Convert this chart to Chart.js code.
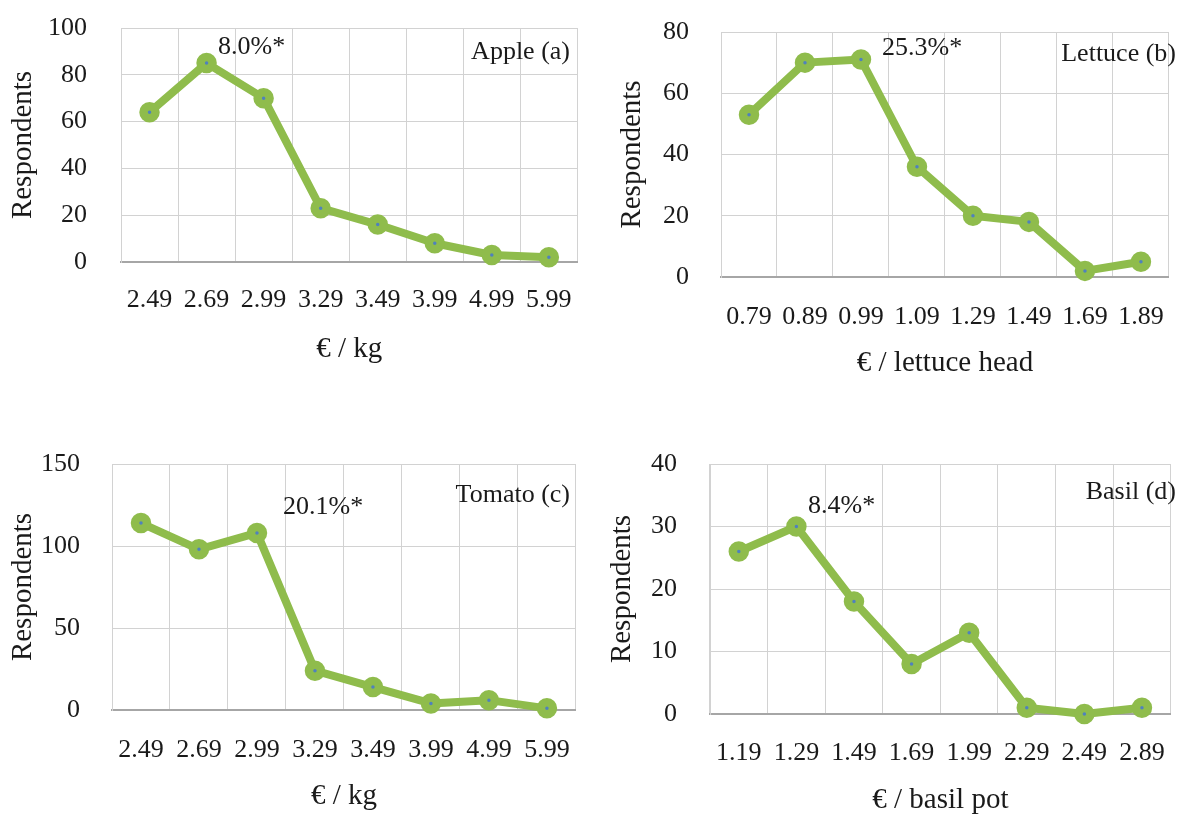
<!DOCTYPE html>
<html>
<head>
<meta charset="utf-8">
<title>Respondents by price point</title>
<script src="https://cdn.jsdelivr.net/npm/chart.js@4.4.0/dist/chart.umd.min.js"></script>
<style>
  html, body { margin: 0; padding: 0; background: #fff; }
  #page { position: relative; width: 1189px; height: 817px; overflow: hidden; background: #fff; }
  canvas { position: absolute; }
</style>
</head>
<body>
<div id="page">
  <canvas id="apple"></canvas>
  <canvas id="lettuce"></canvas>
  <canvas id="tomato"></canvas>
  <canvas id="basil"></canvas>
</div>
<script>
// price points and respondent counts
const applePrices = ['2.49', '2.69', '2.99', '3.29', '3.49', '3.99', '4.99', '5.99'];
const appleCounts = [64, 85, 70, 23, 16, 8, 3, 2];
const appleTicks = { max: 100, step: 20 };

const lettucePrices = ['0.79', '0.89', '0.99', '1.09', '1.29', '1.49', '1.69', '1.89'];
const lettuceCounts = [53, 70, 71, 36, 20, 18, 2, 5];
const lettuceTicks = { max: 80, step: 20 };

const tomatoPrices = ['2.49', '2.69', '2.99', '3.29', '3.49', '3.99', '4.99', '5.99'];
const tomatoCounts = [114, 98, 108, 24, 14, 4, 6, 1];
const tomatoTicks = { max: 150, step: 50 };

const basilPrices = ['1.19', '1.29', '1.49', '1.69', '1.99', '2.29', '2.49', '2.89'];
const basilCounts = [26, 30, 18, 8, 13, 1, 0, 1];
const basilTicks = { max: 40, step: 10 };

const FONT_FAMILY = "'Liberation Serif', 'Times New Roman', serif";
const FONT_SIZE = 26;
const TITLE_SIZE = 29;
const TEXT = '#1a1a1a';
const GREEN = '#8fbc4c';
const GRID = '#d2d2d2';

// panel name (top right) and the share note near the peak
const panelText = {
    id: 'panelText',
    afterDraw(chart, args, opts) {
        const ctx = chart.ctx;
        ctx.save();
        ctx.font = FONT_SIZE + 'px ' + FONT_FAMILY;
        ctx.fillStyle = TEXT;
        ctx.textBaseline = 'middle';
        ctx.textAlign = 'right';
        ctx.fillText(opts.name, opts.nameAt[0], opts.nameAt[1]);
        ctx.textAlign = 'left';
        ctx.fillText(opts.note, opts.noteAt[0], opts.noteAt[1]);
        ctx.restore();
    }
};

function makePanel(p) {
    const [cx, cy, cw, ch] = p.box;
    const [l, t, r, b] = p.plot;
    const canvas = document.getElementById(p.id);
    canvas.width = cw;
    canvas.height = ch;
    canvas.style.left = cx + 'px';
    canvas.style.top = cy + 'px';

    const lh = FONT_SIZE * 1.2;
    const tlh = TITLE_SIZE * 1.2;
    const font = { family: FONT_FAMILY, size: FONT_SIZE };
    const titleFont = { family: FONT_FAMILY, size: TITLE_SIZE };
    const yWidth = l - cx;
    const xHeight = (p.xTitleY - b) + tlh / 2 + 4;

    new Chart(canvas, {
        type: 'line',
        data: {
            labels: p.labels,
            datasets: [{
                data: p.values,
                borderColor: GREEN,
                borderWidth: 8,
                borderJoinStyle: 'round',
                tension: 0,
                clip: false,
                pointRadius: 6,
                pointBorderWidth: 8.5,
                pointBackgroundColor: '#4f81bd',
                pointBorderColor: GREEN
            }]
        },
        options: {
            responsive: false,
            animation: false,
            events: [],
            layout: {
                padding: { left: 0, top: t - cy, right: cx + cw - r, bottom: cy + ch - b - xHeight }
            },
            plugins: {
                legend: { display: false },
                tooltip: { enabled: false },
                panelText: {
                    name: p.name,
                    nameAt: [p.nameAt[0] - cx, p.nameAt[1] - cy],
                    note: p.note,
                    noteAt: [p.noteAt[0] - cx, p.noteAt[1] - cy]
                }
            },
            scales: {
                x: {
                    offset: true,
                    grid: { offset: true, color: GRID, lineWidth: 1, drawTicks: false },
                    border: { color: '#a6a6a6', width: 2 },
                    ticks: { autoSkip: false, maxRotation: 0, padding: p.xPad - lh / 2, color: TEXT, font: font },
                    title: { display: true, text: p.xTitle, color: TEXT, font: titleFont, padding: { top: 0, bottom: 4 } },
                    afterFit: s => { s.height = xHeight; }
                },
                y: {
                    min: 0,
                    max: p.ticks.max,
                    grid: {
                        color: c => (c.tick && c.tick.value === 0) ? 'rgba(0,0,0,0)' : GRID,
                        lineWidth: 1,
                        drawTicks: false
                    },
                    border: { color: GRID, width: 1 },
                    ticks: { stepSize: p.ticks.step, padding: p.yPad, color: TEXT, font: font },
                    title: { display: true, text: 'Respondents', color: TEXT, font: titleFont, padding: { top: p.yTitleX - cx - tlh / 2, bottom: 0 } },
                    afterFit: s => {
                        s.width = yWidth;
                        // the tick padding would otherwise push the plot top down
                        s.paddingTop = 0;
                        s.paddingBottom = 0;
                    }
                }
            }
        },
        plugins: [panelText]
    });
}

makePanel({
    id: 'apple', box: [0, 0, 595, 410], plot: [121, 28, 579, 262],
    labels: applePrices, values: appleCounts, ticks: appleTicks,
    yTitleX: 23, xTitleY: 349, yPad: 34, xPad: 38,
    xTitle: '€ / kg', name: 'Apple (a)', nameAt: [570, 52], note: '8.0%*', noteAt: [218, 47]
});
makePanel({
    id: 'lettuce', box: [595, 0, 594, 410], plot: [721, 32, 1187, 277],
    labels: lettucePrices, values: lettuceCounts, ticks: lettuceTicks,
    yTitleX: 632, xTitleY: 363, yPad: 32, xPad: 40,
    xTitle: '€ / lettuce head', name: 'Lettuce (b)', nameAt: [1176, 54], note: '25.3%*', noteAt: [882, 48]
});
makePanel({
    id: 'tomato', box: [0, 410, 595, 407], plot: [112, 464, 580, 710],
    labels: tomatoPrices, values: tomatoCounts, ticks: tomatoTicks,
    yTitleX: 23, xTitleY: 796, yPad: 32, xPad: 40,
    xTitle: '€ / kg', name: 'Tomato (c)', nameAt: [570, 495], note: '20.1%*', noteAt: [283, 507]
});
makePanel({
    id: 'basil', box: [595, 410, 594, 407], plot: [710, 464, 1182, 714],
    labels: basilPrices, values: basilCounts, ticks: basilTicks,
    yTitleX: 622, xTitleY: 800, yPad: 33, xPad: 39,
    xTitle: '€ / basil pot', name: 'Basil (d)', nameAt: [1176, 492], note: '8.4%*', noteAt: [808, 506]
});
</script>
</body>
</html>
